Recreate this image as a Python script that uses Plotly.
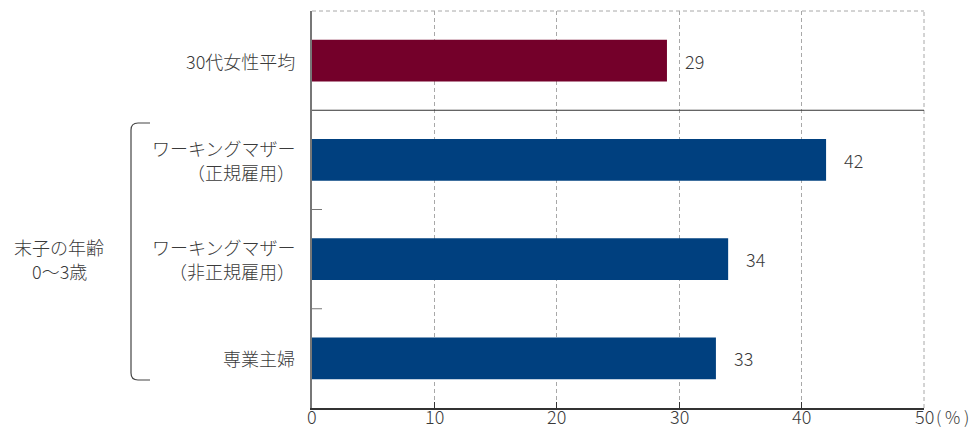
import plotly.graph_objects as go

categories = ["30代女性平均", "ワーキングマザー<br>（正規雇用）", "ワーキングマザー<br>（非正規雇用）", "専業主婦"]
values = [29, 42, 34, 33]
colors = ["#74002A", "#00407F", "#00407F", "#00407F"]
group_label = "末子の年齢<br>0〜3歳"
x_ticks = [0, 10, 20, 30, 40, 50]
unit_label = "( % )"

W, H = 972, 430
ML, MR, MT, MB = 312, 48, 11, 22
PW, PH = W - ML - MR, H - MT - MB

def px(x):
    return (x - ML) / PW

def py(y):
    return (H - MB - y) / PH

FONT = "Noto Sans CJK JP Light, Noto Sans CJK JP"
TXT = "#3a3a3a"
GRID = "#a8a8a8"
LINE_GAP = 24
ypos = list(range(len(categories)))

fig = go.Figure(go.Bar(
    x=values, y=ypos, orientation="h", width=0.42,
    marker=dict(color=colors, line=dict(width=0)),
    hoverinfo="skip",
))

def lab_font(size=18):
    return dict(size=size, color=TXT, family=FONT, weight=300)

annotations = []
for v, yv in zip(values, ypos):
    annotations.append(dict(x=v, y=yv, xref="x", yref="y", text=str(v), showarrow=False,
                            xanchor="left", xshift=16, font=lab_font()))
for c, yv in zip(categories, ypos):
    lines = c.split("<br>")
    n = len(lines)
    for i, ln in enumerate(lines):
        shift = -(i - (n - 1) / 2) * LINE_GAP
        annotations.append(dict(x=px(297), y=yv, xref="paper", yref="y", text=ln, showarrow=False,
                                xanchor="right", yshift=shift, font=lab_font()))
for t in x_ticks:
    annotations.append(dict(x=t, y=py(430), xref="x", yref="paper", text=str(t), showarrow=False,
                            xanchor="center", yanchor="bottom", borderpad=0, font=lab_font()))
g_lines = group_label.split("<br>")
for i, ln in enumerate(g_lines):
    shift = -(i - (len(g_lines) - 1) / 2) * LINE_GAP
    annotations.append(dict(x=px(59), y=py(259), xref="paper", yref="paper", text=ln, showarrow=False,
                            xanchor="center", yanchor="middle", yshift=shift, font=lab_font()))
annotations.append(dict(x=px(935), y=py(430), xref="paper", yref="paper", text=unit_label, showarrow=False,
                        xanchor="left", yanchor="bottom", borderpad=0, font=lab_font(17)))

shapes = []
# top and right dashed border
shapes.append(dict(type="line", xref="paper", yref="paper", x0=0, x1=1, y0=1, y1=1,
                   line=dict(color=GRID, width=1, dash="4px,3px")))
shapes.append(dict(type="line", xref="paper", yref="paper", x0=1, x1=1, y0=0, y1=1,
                   line=dict(color=GRID, width=1, dash="4px,3px")))
# separator
shapes.append(dict(type="line", xref="paper", yref="y", x0=0, x1=1, y0=0.5, y1=0.5,
                   line=dict(color="#333333", width=1)))
# small ticks on left axis
for b in [1.5, 2.5]:
    shapes.append(dict(type="line", xref="paper", yref="y", x0=0, x1=10 / PW, y0=b, y1=b,
                       line=dict(color="#777777", width=1)))
# bracket
r = 7
xa, xb, y0, y1 = 131, 150, 123, 380
path = (f"M {px(xb)},{py(y0)} L {px(xa + r)},{py(y0)} Q {px(xa)},{py(y0)} {px(xa)},{py(y0 + r)} "
        f"L {px(xa)},{py(y1 - r)} Q {px(xa)},{py(y1)} {px(xa + r)},{py(y1)} L {px(xb)},{py(y1)}")
shapes.append(dict(type="path", xref="paper", yref="paper", path=path,
                   line=dict(color="#444444", width=1.2)))

fig.update_layout(
    width=W, height=H,
    margin=dict(l=ML, r=MR, t=MT, b=MB, pad=0, autoexpand=False),
    paper_bgcolor="white", plot_bgcolor="white",
    showlegend=False,
    font=dict(family=FONT, color=TXT),
    xaxis=dict(range=[0, 50], tickvals=x_ticks, showticklabels=False,
               showgrid=True, gridcolor=GRID, griddash="4px,3px", gridwidth=1,
               showline=True, linecolor="#333333", linewidth=1.5,
               ticks="inside", ticklen=6, tickcolor="#333333", tickwidth=1,
               zeroline=False, automargin=False),
    yaxis=dict(range=[3.5, -0.5], showticklabels=False, showgrid=False, zeroline=False,
               showline=True, linecolor="#777777", linewidth=1.5, ticks="", automargin=False),
    annotations=annotations,
    shapes=shapes,
)

fig.write_html("out.html")
